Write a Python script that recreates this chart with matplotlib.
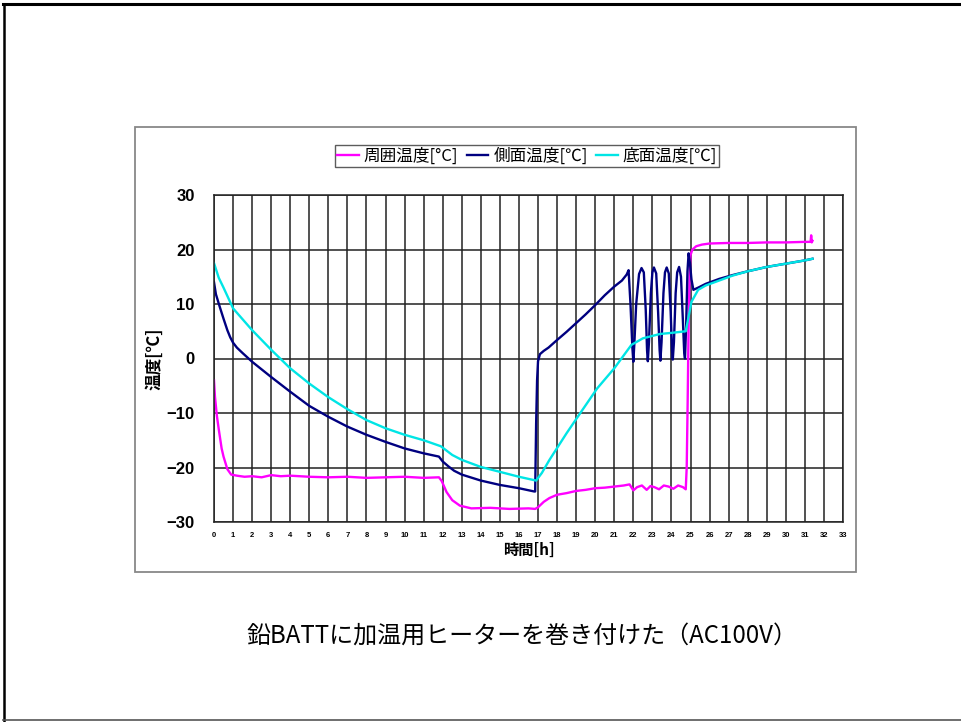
import matplotlib.pyplot as plt
from matplotlib.lines import Line2D
from matplotlib.patches import Rectangle

JP = ["Noto Sans CJK JP", "DejaVu Sans"]
NUM = ["Liberation Sans", "DejaVu Sans"]

# 周囲温度 (ambient)
amb_t = [0.0, 0.05, 0.15, 0.25, 0.4, 0.5, 0.7, 0.9, 1.2, 1.6, 2.0, 2.5, 3.0, 3.5, 4.0, 5.0,
         6.0, 7.0, 8.0, 9.0, 10.0, 11.0, 11.8, 11.95, 12.2, 12.5, 12.9, 13.5, 14.5,
         15.5, 16.5, 16.85, 17.0, 17.3, 17.6, 18.0, 18.5, 19.0, 19.5, 20.0, 20.5,
         21.0, 21.5, 21.8, 22.0, 22.2, 22.45, 22.7, 22.9, 23.1, 23.35, 23.6, 23.85,
         24.1, 24.35, 24.6, 24.75, 24.8, 24.85, 24.9, 24.95, 25.0, 25.1,
         25.3, 25.6, 26.0, 27.0, 28.0, 29.0, 30.0, 31.0, 31.3, 31.33, 31.36, 31.4]
amb_v = [-4.0, -7.0, -10.5, -13.0, -16.5, -18.0, -20.3, -21.3, -21.5, -21.7, -21.6, -21.8,
         -21.4, -21.6, -21.5, -21.7, -21.8, -21.7, -21.9, -21.8, -21.7, -21.9, -21.8,
         -22.5, -24.5, -26.0, -27.0, -27.5, -27.4, -27.6, -27.5, -27.6, -27.3, -26.3,
         -25.6, -25.0, -24.7, -24.3, -24.1, -23.8, -23.7, -23.5, -23.3, -23.1, -24.2,
         -23.6, -23.3, -24.1, -23.4, -23.6, -24.0, -23.3, -23.5, -23.9, -23.3,
         -23.6, -24.0, -20.0, -8.0, 6.0, 15.0, 19.0, 20.0, 20.6, 20.9, 21.1,
         21.2, 21.2, 21.3, 21.3, 21.4, 21.4, 22.6, 21.3, 21.6]

# 側面温度 (side)
side_t = [0.0, 0.1, 0.3, 0.5, 0.7, 0.85, 1.0, 1.2, 1.5, 2.0, 3.0, 4.0, 5.0, 6.0, 7.0,
          8.0, 9.0, 10.0, 11.0, 11.8, 12.0, 12.3, 12.6, 13.0, 14.0, 15.0, 16.0, 16.8,
          16.85, 16.9, 16.95, 17.0, 17.1, 17.3, 17.55, 18.0, 18.5, 19.0, 19.5, 20.0,
          20.5, 21.0, 21.4, 21.65, 21.75,
          21.85, 21.95, 22.0, 22.05, 22.15, 22.3, 22.43, 22.55, 22.65,
          22.72, 22.76, 22.82, 22.92, 23.0, 23.08, 23.2, 23.3,
          23.38, 23.42, 23.48, 23.58, 23.66, 23.75, 23.86, 23.96,
          24.03, 24.07, 24.13, 24.22, 24.3, 24.4, 24.5, 24.6,
          24.67, 24.71, 24.77, 24.84, 24.9, 24.97, 25.05, 25.15,
          25.4, 25.8, 26.5, 27.2, 28.0, 29.0, 30.0, 31.0, 31.4]
side_v = [14.0, 11.8, 9.5, 7.3, 5.2, 3.9, 2.9, 2.0, 1.0, -0.6, -3.4, -6.1, -8.7, -10.7,
          -12.5, -14.0, -15.3, -16.5, -17.4, -18.0, -18.9, -19.8, -20.6, -21.3, -22.4,
          -23.2, -23.8, -24.4, -24.4, -12.0, -4.0, -0.5, 0.8, 1.4, 2.0, 3.4, 4.9, 6.5,
          8.1, 9.8, 11.6, 13.2, 14.3, 15.4, 16.2,
          10.0, 2.0, -0.6, 2.5, 10.0, 15.5, 16.6, 15.8, 9.0,
          1.5, -0.5, 3.0, 12.0, 15.8, 16.7, 15.6, 8.5,
          1.5, -0.4, 3.0, 12.0, 15.8, 16.7, 15.6, 8.5,
          1.5, -0.2, 3.0, 12.0, 15.8, 16.8, 15.0, 7.0,
          1.0, 0.0, 6.0, 16.0, 19.3, 17.5, 14.5, 12.6,
          13.0, 13.7, 14.6, 15.3, 16.0, 16.8, 17.4, 18.0, 18.3]

# 底面温度 (bottom)
base_t = [0.0, 0.25, 0.5, 1.0, 2.0, 3.0, 4.0, 5.0, 6.0, 7.0, 8.0, 9.0, 10.0, 11.0,
          11.9, 12.5, 13.0, 14.0, 15.0, 16.0, 16.9, 17.2, 17.6, 18.5, 19.2, 20.1,
          21.0, 21.9, 22.5, 23.4, 24.0, 24.75, 24.9, 25.05, 25.4, 25.8, 26.5, 27.2,
          28.0, 29.0, 30.0, 31.0, 31.4]
base_v = [17.5, 14.8, 13.0, 9.2, 5.2, 1.6, -1.8, -4.6, -7.1, -9.3, -11.3, -12.8,
          -14.0, -15.0, -16.1, -17.7, -18.6, -19.9, -20.8, -21.7, -22.4, -21.0,
          -18.6, -13.7, -10.1, -5.5, -1.8, 2.5, 3.7, 4.5, 4.7, 5.0, 7.7, 10.4, 12.6,
          13.4, 14.3, 15.2, 16.0, 16.8, 17.4, 18.0, 18.3]

series = [
    ("周囲温度[°C]", amb_t, amb_v, "#ff00ff"),
    ("側面温度[℃]", side_t, side_v, "#000080"),
    ("底面温度[℃]", base_t, base_v, "#00e5e5"),
]

x_ticks = list(range(0, 34))
y_ticks = [-30, -20, -10, 0, 10, 20, 30]

fig = plt.figure(figsize=(9.61, 7.22), dpi=100)

# page frame
fig.add_artist(Line2D([0.003, 1.0], [0.994, 0.994], color="black", lw=2.2))
fig.add_artist(Line2D([0.004, 0.004], [0.0, 0.994], color="black", lw=1.8))
fig.add_artist(Line2D([0.003, 1.0], [0.003, 0.003], color="#555555", lw=1.2))

# chart area box
fig.add_artist(Rectangle((135 / 961, 1 - 572 / 722), (856 - 135) / 961, (572 - 127) / 722,
                         transform=fig.transFigure, fill=False, edgecolor="#888888", lw=1.3))

ax = fig.add_axes([214 / 961, 1 - 522 / 722, (843 - 214) / 961, (522 - 195) / 722])
for name, t, v, c in series:
    ax.plot(t, v, color=c, lw=1.7, label=name)

ax.set_xlim(0, 33)
ax.set_ylim(-30, 30)
ax.set_xticks(x_ticks)
ax.set_yticks(y_ticks)
ax.set_xticklabels([str(x) for x in x_ticks], fontsize=5.5, fontweight="bold", family=NUM)
ax.set_yticklabels([str(y).replace("-", "\u2212") for y in y_ticks], fontsize=12,
                   fontweight="bold", family=NUM)
ax.tick_params(axis="both", length=0)
ax.tick_params(axis="x", pad=7)
ax.tick_params(axis="y", pad=14)
ax.grid(True, color="#222222", lw=1.1)
ax.set_axisbelow(True)
for s in ax.spines.values():
    s.set_color("#222222")
    s.set_linewidth(1.1)

ax.set_xlabel("時間[h]", family=JP, fontsize=11, fontweight="bold", labelpad=2)
ax.set_ylabel("温度[℃]", family=JP, fontsize=12, fontweight="bold", labelpad=2)

leg = ax.legend(loc="center", bbox_to_anchor=(527 / 961, 1 - 156 / 722),
                bbox_transform=fig.transFigure, ncol=3, frameon=True, fancybox=False,
                prop={"family": JP, "size": 12}, handlelength=1.3, handletextpad=0.3,
                columnspacing=0.5, borderpad=0.15, borderaxespad=0)
leg.get_frame().set_edgecolor("#333333")
leg.get_frame().set_linewidth(1.0)

fig.text(522 / 961, 1 - 636 / 722, "鉛BATTに加温用ヒーターを巻き付けた（AC100V）",
         family=JP, fontsize=17.3, ha="center", va="center")

fig.savefig("out.png", dpi=100)
